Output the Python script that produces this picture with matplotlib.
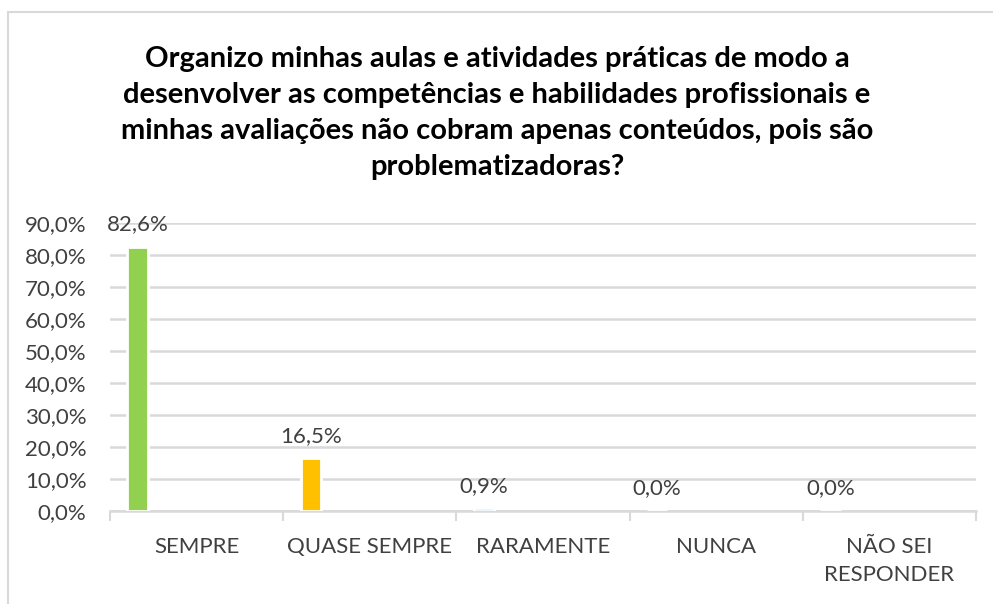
import matplotlib
matplotlib.use('Agg')
import matplotlib.pyplot as plt
from matplotlib.patches import Rectangle
from matplotlib.ticker import FuncFormatter, MultipleLocator

# Dados
categorias = ['SEMPRE', 'QUASE SEMPRE', 'RARAMENTE', 'NUNCA', 'NÃO SEI\nRESPONDER']
valores = [82.6, 16.5, 0.9, 0.0, 0.0]
cores = ['#92D050', '#FFC000', '#5B9BD5', '#ED7D31', '#A5A5A5']
rotulos = ['82,6%', '16,5%', '0,9%', '0,0%', '0,0%']
titulo = ('Organizo minhas aulas e atividades práticas de modo a\n'
          'desenvolver as competências e habilidades profissionais e\n'
          'minhas avaliações não cobram apenas conteúdos, pois são\n'
          'problematizadoras?')

plt.rcParams['font.family'] = ['Lato', 'DejaVu Sans']

fig = plt.figure(figsize=(9.93, 6.04), dpi=100)
fig.patch.set_facecolor('white')

# moldura do grafico (estilo Excel)
fig.patches.append(Rectangle((8 / 993, -0.1), 1.2, 1 - 12 / 604 + 0.1,
                             transform=fig.transFigure, fill=False,
                             edgecolor='#D9D9D9', linewidth=1.5))

ax = fig.add_axes([110 / 993, 1 - 511 / 604, 866 / 993, 288 / 604])

n = len(categorias)
pos = [i + 0.159 for i in range(n)]
ax.bar(pos, valores, width=0.118, color=cores, edgecolor='white',
       linewidth=2, zorder=3)

for x, v, r in zip(pos, valores, rotulos):
    ax.annotate(r, (x, v), xytext=(0, 9), textcoords='offset points',
                ha='center', va='bottom', fontsize=16, color='#404040')

ax.set_xlim(0, n)
ax.set_ylim(0, 90)
ax.yaxis.set_major_locator(MultipleLocator(10))
ax.yaxis.set_major_formatter(FuncFormatter(lambda v, p: f'{v:.1f}%'.replace('.', ',')))
ax.grid(axis='y', color='#D9D9D9', linewidth=1.8, zorder=0)
ax.set_axisbelow(True)

ax.set_xticks(range(n + 1))
ax.set_xticklabels([])
ax.set_xticks([i + 0.5 for i in range(n)], minor=True)
ax.set_xticklabels(categorias, minor=True, fontsize=16, color='#404040',
                   linespacing=1.45)
ax.tick_params(axis='x', which='major', length=7, color='#D9D9D9', width=1.5)
ax.tick_params(axis='x', which='minor', length=0, pad=19)
ax.tick_params(axis='y', length=0, labelsize=16, labelcolor='#404040', pad=17)

for s in ['top', 'right', 'left']:
    ax.spines[s].set_visible(False)
ax.spines['bottom'].set_color('#D9D9D9')
ax.spines['bottom'].set_linewidth(1.8)

fig.text(497 / 993, 1 - 46 / 604, titulo, ha='center', va='top',
         fontsize=21, fontweight='bold', color='#000000', linespacing=1.47)

fig.savefig('out.png', dpi=100)
